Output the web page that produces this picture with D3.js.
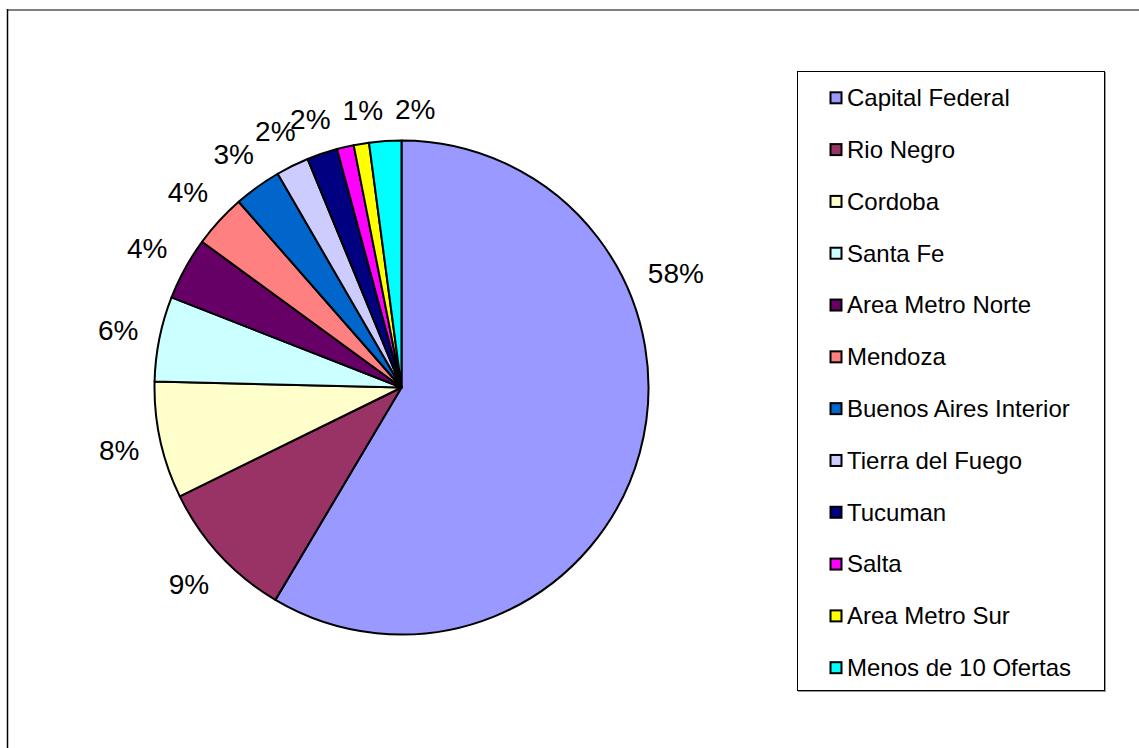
<!DOCTYPE html>
<html>
<head>
<meta charset="utf-8">
<script src="https://cdn.jsdelivr.net/npm/d3@7"></script>
<style>
  html, body { margin: 0; padding: 0; background: #fff; }
  svg { display: block; font-family: "Liberation Sans", Arial, sans-serif; }
</style>
</head>
<body>
<svg id="chart" width="1139" height="748"></svg>
<script>
// ---- data ----
const categories = ["Capital Federal", "Rio Negro", "Cordoba", "Santa Fe", "Area Metro Norte",
  "Mendoza", "Buenos Aires Interior", "Tierra del Fuego", "Tucuman", "Salta",
  "Area Metro Sur", "Menos de 10 Ofertas"];
const shares = [58.5, 9.2, 7.65, 5.55, 4.1, 3.5, 3.1, 2.15, 2.0, 1.1, 1.0, 2.1];
const shareLabels = ["58%", "9%", "8%", "6%", "4%", "4%", "3%", "2%", "2%", null, "1%", "2%"];
const colors = ["#9999FF", "#993366", "#FFFFCC", "#CCFFFF", "#660066", "#FF8080",
  "#0066CC", "#CCCCFF", "#000080", "#FF00FF", "#FFFF00", "#00FFFF"];

// ---- layout ----
const svg = d3.select("#chart");
const W = 1139, H = 748;
const cx = 401.5, cy = 387.5, R = 247;

// chart area frame
svg.append("line").attr("x1", 7).attr("x2", W).attr("y1", 10).attr("y2", 10)
  .attr("stroke", "#808080").attr("stroke-width", 2);
svg.append("line").attr("x1", 7.5).attr("x2", 7.5).attr("y1", 9).attr("y2", H)
  .attr("stroke", "#000").attr("stroke-width", 1.5);

const data = categories.map((c, i) => ({ name: c, value: shares[i], label: shareLabels[i], color: colors[i] }));
const pie = d3.pie().sort(null).value(d => d.value);
const arcs = pie(data);
const arc = d3.arc().innerRadius(0).outerRadius(R);

const g = svg.append("g").attr("transform", `translate(${cx},${cy})`);
g.selectAll("path.slice").data(arcs).join("path")
  .attr("class", "slice")
  .attr("d", arc)
  .attr("fill", d => d.data.color)
  .attr("stroke", "#000")
  .attr("stroke-width", 2)
  .attr("stroke-linejoin", "round");

// data labels (outside end)
const fontSize = 28, capH = 0.716 * fontSize, gap = 20;
const labelG = g.append("g");
const placed = [];
arcs.forEach((d, i) => {
  if (!d.data.label) return;
  let a = (d.startAngle + d.endAngle) / 2;
  if (i === 0) a = d.startAngle + 0.32 * (d.endAngle - d.startAngle); // Excel best-fit shift for the big slice
  const t = labelG.append("text")
    .attr("font-size", fontSize)
    .attr("text-anchor", "middle")
    .attr("fill", "#000")
    .text(d.data.label);
  const w = t.node().getComputedTextLength();
  const hw = w / 2, hh = capH / 2 + 1;
  const sx = Math.sin(a), cyu = Math.cos(a);
  const r = R + gap + hw * Math.abs(sx) + hh * Math.abs(cyu);
  const x = r * sx, y = -r * cyu;
  placed.push({ t, x, y, hw, a });
});
// crowded labels near 12 o'clock are pushed rightwards to keep them apart
const nearTop = a => Math.min(a, 2 * Math.PI - a) < 15 * Math.PI / 180;
for (let k = 1; k < placed.length; k++) {
  const p = placed[k], q = placed[k - 1];
  if (!nearTop(p.a)) continue;
  const minX = q.x + q.hw + 12 + p.hw;
  if (p.x < minX) p.x = minX;
}
placed.forEach(p => p.t.attr("x", p.x).attr("y", p.y + capH / 2));

// legend
const lgX = 797, lgY = 71, lgW = 307, lgH = 619;
svg.append("rect").attr("x", lgX + 1.5).attr("y", lgY + 1.5).attr("width", lgW).attr("height", lgH)
  .attr("fill", "none").attr("stroke", "#999").attr("stroke-width", 1);
svg.append("rect").attr("x", lgX + 0.5).attr("y", lgY + 0.5).attr("width", lgW).attr("height", lgH)
  .attr("fill", "#fff").attr("stroke", "#000").attr("stroke-width", 1);

const ly = d3.scalePoint().domain(categories).range([97.8, 667.7]);
const items = svg.append("g").selectAll("g").data(data).join("g")
  .attr("transform", d => `translate(0,${ly(d.name)})`);
items.append("rect")
  .attr("x", 830.5).attr("y", -5.5).attr("width", 11).attr("height", 11)
  .attr("fill", d => d.color).attr("stroke", "#000").attr("stroke-width", 2);
items.append("text")
  .attr("x", 847).attr("y", 8.4)
  .attr("font-size", 24)
  .attr("fill", "#000")
  .text(d => d.name);
</script>
</body>
</html>
